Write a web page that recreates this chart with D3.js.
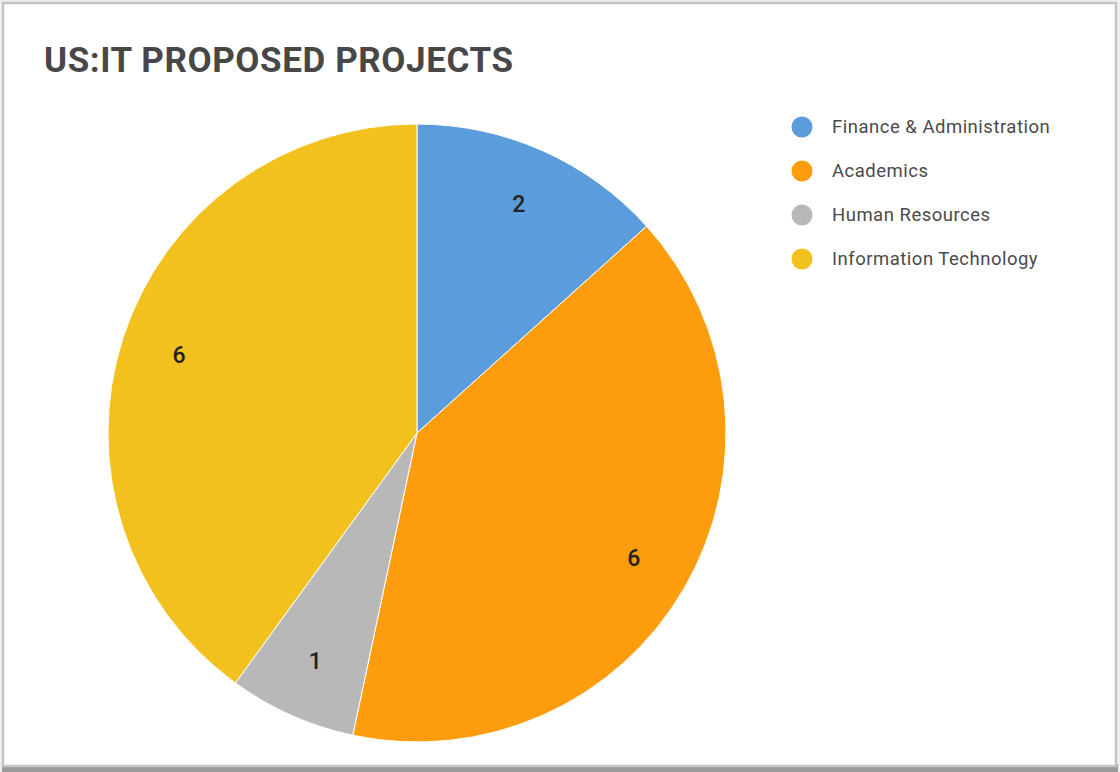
<!DOCTYPE html>
<html>
<head>
<meta charset="utf-8">
<script src="https://cdn.jsdelivr.net/npm/d3@7"></script>
<style>
  html, body { margin: 0; padding: 0; background: #ffffff; }
  svg { display: block; }
</style>
</head>
<body>
<svg id="chart" width="1120" height="772"></svg>
<script>
// Proposed projects per department
const categories = ["Finance & Administration", "Academics", "Human Resources", "Information Technology"];
const projectCounts = [2, 6, 1, 6];
const sliceColors = ["#5b9cdc", "#fd9c0c", "#b8b8b8", "#f2c11e"];
const chartTitle = "US:IT PROPOSED PROJECTS";

const W = 1120, H = 772;
const svg = d3.select("#chart");

// Card frame with a soft shadow along the bottom edge
svg.append("rect").attr("x", 0).attr("y", 0).attr("width", W).attr("height", H).attr("fill", "#efefef");
svg.append("rect").attr("x", 2).attr("y", 764).attr("width", 1116).attr("height", 8).attr("fill", "#9a9a9a");
svg.append("rect").attr("x", 3).attr("y", 3).attr("width", 1113).attr("height", 763)
  .attr("fill", "#ffffff").attr("stroke", "#c4c4c4").attr("stroke-width", 2.5);

// Title
svg.append("text")
  .attr("x", 44).attr("y", 72)
  .attr("font-family", "Roboto, 'Open Sans', sans-serif")
  .attr("font-weight", 700)
  .attr("font-size", 35)
  .attr("letter-spacing", 0.6)
  .attr("fill", "#474747")
  .text(chartTitle);

// Pie
const cx = 417, cy = 433, radius = 309;
const data = categories.map((c, i) => ({ name: c, value: projectCounts[i], color: sliceColors[i] }));
const pie = d3.pie().value(d => d.value).sort(null);
const arc = d3.arc().innerRadius(0).outerRadius(radius);
const labelArc = d3.arc().innerRadius(radius * 0.81).outerRadius(radius * 0.81);

const g = svg.append("g").attr("transform", `translate(${cx},${cy})`);
const arcs = pie(data);

g.selectAll("path.slice")
  .data(arcs)
  .enter().append("path")
  .attr("class", "slice")
  .attr("d", arc)
  .attr("fill", d => d.data.color)
  .attr("stroke", "#ffffff")
  .attr("stroke-width", 1);

g.selectAll("text.value")
  .data(arcs)
  .enter().append("text")
  .attr("class", "value")
  .attr("transform", d => `translate(${labelArc.centroid(d)})`)
  .attr("text-anchor", "middle")
  .attr("dominant-baseline", "central")
  .attr("font-family", "Roboto, 'Open Sans', sans-serif")
  .attr("font-weight", 500)
  .attr("font-size", 23)
  .attr("fill", "#222222")
  .text(d => d.data.value);

// Legend
const legend = svg.append("g").attr("transform", "translate(802,127)");
const rows = legend.selectAll("g.row")
  .data(data)
  .enter().append("g")
  .attr("class", "row")
  .attr("transform", (d, i) => `translate(0,${i * 44})`);

rows.append("circle")
  .attr("r", 10.5)
  .attr("fill", d => d.color);

rows.append("text")
  .attr("x", 30)
  .attr("y", 0)
  .attr("dominant-baseline", "central")
  .attr("font-family", "Roboto, 'Open Sans', sans-serif")
  .attr("font-size", 18.5)
  .attr("letter-spacing", 0.5)
  .attr("fill", "#4a4a4a")
  .text(d => d.name);
</script>
</body>
</html>
